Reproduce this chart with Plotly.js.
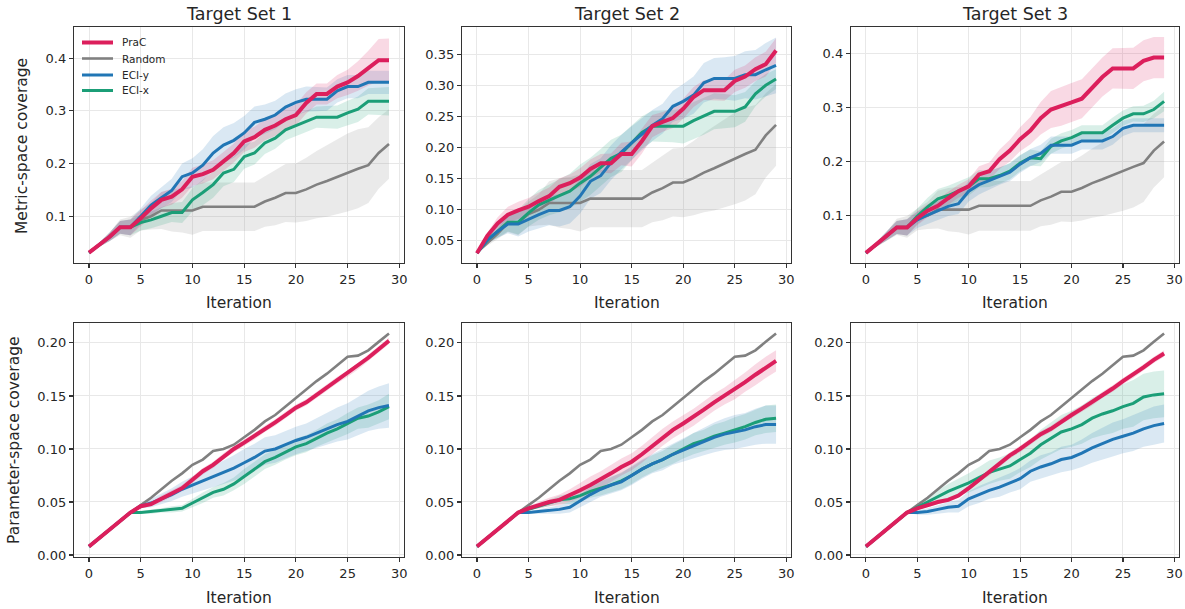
<!DOCTYPE html>
<html>
<head>
<meta charset="utf-8">
<script src="https://cdn.plot.ly/plotly-3.0.1.min.js"></script>
<style>html,body{margin:0;padding:0;background:#fff;}#chart{width:1185px;height:609px;}</style>
</head>
<body>
<div id="chart"></div>
<script>
// ---------------- DATA ----------------
const iterations = [0,1,2,3,4,5,6,7,8,9,10,11,12,13,14,15,16,17,18,19,20,21,22,23,24,25,26,27,28,29];
const seriesNames = ["PraC", "Random", "ECI-y", "ECI-x"];
const panelTitles = ["Target Set 1", "Target Set 2", "Target Set 3"];
const xTickVals = [0, 5, 10, 15, 20, 25, 30];
const metricTicks1 = [0.1, 0.2, 0.3, 0.4];
const metricTicks2 = [0.05, 0.10, 0.15, 0.20, 0.25, 0.30, 0.35];
const metricTicks3 = [0.1, 0.2, 0.3, 0.4];
const paramTicks = [0.00, 0.05, 0.10, 0.15, 0.20];

// Metric-space coverage (top row)
const randomMetric = [0.031,0.046,0.061,0.079,0.079,0.093,0.100,0.111,0.111,0.111,0.111,0.118,0.118,0.118,0.118,0.118,0.118,0.128,0.135,0.144,0.144,0.151,0.160,0.167,0.175,0.183,0.190,0.197,0.220,0.237];
const randomMetricSpread = [0,0.004,0.008,0.015,0.020,0.020,0.025,0.035,0.040,0.042,0.046,0.046,0.046,0.046,0.046,0.046,0.046,0.048,0.052,0.055,0.056,0.060,0.064,0.068,0.071,0.074,0.075,0.072,0.068,0.066];

const pracMetric1 = [0.031,0.046,0.061,0.079,0.079,0.096,0.115,0.131,0.137,0.151,0.175,0.180,0.188,0.204,0.220,0.242,0.250,0.264,0.272,0.284,0.292,0.315,0.332,0.332,0.346,0.354,0.366,0.381,0.396,0.396];
const pracMetric1Spread = [0,0.004,0.008,0.012,0.015,0.015,0.015,0.015,0.015,0.016,0.017,0.018,0.018,0.018,0.018,0.020,0.020,0.020,0.020,0.020,0.020,0.020,0.020,0.020,0.022,0.024,0.028,0.033,0.040,0.041];
const eciyMetric1 = [0.031,0.046,0.061,0.079,0.079,0.100,0.121,0.135,0.149,0.175,0.182,0.197,0.220,0.235,0.244,0.258,0.278,0.284,0.292,0.307,0.316,0.322,0.322,0.322,0.338,0.346,0.346,0.354,0.354,0.354];
const eciyMetric1Spread = [0,0.004,0.008,0.012,0.015,0.015,0.018,0.020,0.022,0.025,0.028,0.030,0.032,0.034,0.033,0.032,0.030,0.028,0.027,0.026,0.025,0.024,0.023,0.022,0.022,0.022,0.022,0.022,0.022,0.022];
const ecixMetric1 = [0.031,0.046,0.061,0.079,0.079,0.088,0.093,0.100,0.107,0.107,0.131,0.145,0.160,0.182,0.189,0.213,0.220,0.239,0.248,0.264,0.272,0.280,0.288,0.288,0.288,0.296,0.303,0.318,0.318,0.318];
const ecixMetric1Spread = [0,0.004,0.008,0.012,0.015,0.015,0.016,0.017,0.018,0.020,0.022,0.024,0.025,0.025,0.024,0.023,0.022,0.021,0.020,0.020,0.020,0.020,0.020,0.021,0.022,0.023,0.024,0.025,0.026,0.027];

const pracMetric2 = [0.030,0.058,0.078,0.092,0.099,0.105,0.114,0.122,0.137,0.143,0.152,0.166,0.175,0.175,0.190,0.190,0.211,0.235,0.242,0.248,0.263,0.282,0.293,0.293,0.293,0.308,0.315,0.327,0.335,0.357];
const pracMetric2Spread = [0,0.005,0.010,0.013,0.014,0.014,0.014,0.014,0.014,0.014,0.015,0.015,0.015,0.016,0.018,0.020,0.020,0.018,0.016,0.016,0.016,0.016,0.016,0.016,0.017,0.018,0.018,0.019,0.020,0.020];
const eciyMetric2 = [0.030,0.051,0.065,0.077,0.077,0.085,0.092,0.099,0.099,0.105,0.122,0.146,0.155,0.176,0.193,0.208,0.222,0.236,0.247,0.267,0.275,0.285,0.305,0.312,0.312,0.312,0.318,0.318,0.326,0.333];
const eciyMetric2Spread = [0,0.005,0.010,0.015,0.020,0.020,0.022,0.024,0.026,0.027,0.028,0.028,0.028,0.028,0.028,0.027,0.026,0.025,0.024,0.025,0.028,0.030,0.032,0.033,0.034,0.036,0.038,0.040,0.043,0.045];
const ecixMetric2 = [0.030,0.051,0.065,0.080,0.080,0.095,0.108,0.116,0.123,0.130,0.143,0.154,0.168,0.183,0.191,0.208,0.225,0.235,0.235,0.235,0.235,0.244,0.251,0.259,0.259,0.259,0.266,0.287,0.301,0.311];
const ecixMetric2Spread = [0,0.005,0.010,0.015,0.020,0.022,0.024,0.025,0.027,0.028,0.030,0.030,0.030,0.030,0.030,0.028,0.026,0.025,0.025,0.026,0.028,0.030,0.030,0.029,0.028,0.026,0.024,0.020,0.018,0.016];

const pracMetric3 = [0.031,0.047,0.062,0.078,0.078,0.095,0.109,0.118,0.132,0.145,0.154,0.176,0.182,0.204,0.220,0.241,0.257,0.280,0.296,0.302,0.309,0.316,0.336,0.356,0.372,0.372,0.372,0.386,0.392,0.392];
const pracMetric3Spread = [0,0.004,0.008,0.012,0.015,0.013,0.012,0.012,0.012,0.012,0.013,0.015,0.016,0.018,0.020,0.022,0.025,0.030,0.034,0.036,0.036,0.036,0.036,0.036,0.037,0.038,0.038,0.038,0.038,0.038];
const eciyMetric3 = [0.031,0.047,0.062,0.078,0.078,0.092,0.101,0.109,0.117,0.122,0.145,0.157,0.165,0.173,0.180,0.195,0.207,0.215,0.230,0.230,0.230,0.238,0.238,0.238,0.246,0.261,0.267,0.267,0.267,0.267];
const eciyMetric3Spread = [0,0.004,0.008,0.012,0.015,0.015,0.016,0.017,0.018,0.019,0.019,0.018,0.017,0.016,0.016,0.016,0.016,0.016,0.016,0.016,0.016,0.016,0.016,0.016,0.015,0.014,0.013,0.013,0.013,0.013];
const ecixMetric3 = [0.031,0.047,0.062,0.078,0.078,0.099,0.116,0.131,0.137,0.145,0.154,0.168,0.168,0.174,0.182,0.197,0.207,0.205,0.228,0.238,0.244,0.253,0.253,0.253,0.267,0.280,0.288,0.288,0.296,0.311];
const ecixMetric3Spread = [0,0.004,0.008,0.012,0.015,0.015,0.017,0.018,0.018,0.018,0.017,0.016,0.015,0.015,0.015,0.015,0.015,0.014,0.014,0.014,0.014,0.014,0.014,0.014,0.014,0.014,0.014,0.015,0.016,0.018];

// Parameter-space coverage (bottom row)
const randomParam = [0.008,0.016,0.024,0.032,0.040,0.047,0.054,0.062,0.070,0.077,0.085,0.090,0.098,0.100,0.104,0.111,0.118,0.126,0.132,0.140,0.148,0.156,0.164,0.171,0.179,0.187,0.188,0.193,0.201,0.209];

const pracParam1 = [0.008,0.016,0.024,0.032,0.040,0.046,0.048,0.053,0.058,0.063,0.071,0.079,0.085,0.093,0.100,0.106,0.112,0.119,0.125,0.132,0.139,0.144,0.151,0.158,0.165,0.171,0.178,0.186,0.194,0.202];
const pracParam1Spread = [0,0.001,0.001,0.001,0.001,0.002,0.002,0.003,0.003,0.003,0.003,0.003,0.003,0.003,0.003,0.003,0.003,0.003,0.003,0.003,0.003,0.003,0.003,0.003,0.003,0.003,0.003,0.003,0.003,0.003];
const eciyParam1 = [0.008,0.016,0.024,0.032,0.040,0.046,0.049,0.053,0.057,0.062,0.066,0.070,0.074,0.078,0.082,0.087,0.092,0.098,0.100,0.104,0.108,0.111,0.115,0.119,0.123,0.126,0.131,0.136,0.139,0.141];
const eciyParam1Spread = [0,0,0,0,0,0.002,0.004,0.005,0.006,0.007,0.008,0.009,0.010,0.011,0.012,0.013,0.013,0.013,0.013,0.013,0.013,0.013,0.014,0.015,0.016,0.017,0.018,0.019,0.020,0.021];
const ecixParam1 = [0.008,0.016,0.024,0.032,0.040,0.040,0.041,0.042,0.043,0.044,0.049,0.054,0.059,0.062,0.067,0.074,0.081,0.088,0.092,0.097,0.102,0.105,0.110,0.115,0.119,0.124,0.129,0.131,0.135,0.140];
const ecixParam1Spread = [0,0,0,0,0,0.001,0.002,0.002,0.003,0.003,0.004,0.005,0.005,0.006,0.006,0.007,0.007,0.007,0.007,0.007,0.008,0.008,0.008,0.009,0.009,0.010,0.010,0.011,0.011,0.012];

const pracParam2 = [0.008,0.016,0.024,0.032,0.040,0.044,0.047,0.050,0.052,0.056,0.061,0.066,0.071,0.077,0.083,0.088,0.095,0.103,0.111,0.118,0.124,0.130,0.137,0.144,0.150,0.156,0.163,0.170,0.177,0.183];
const pracParam2Spread = [0,0,0,0,0,0.002,0.003,0.004,0.005,0.006,0.007,0.008,0.008,0.008,0.008,0.008,0.008,0.008,0.008,0.008,0.008,0.008,0.008,0.008,0.008,0.009,0.009,0.010,0.010,0.010];
const eciyParam2 = [0.008,0.016,0.024,0.032,0.040,0.040,0.041,0.042,0.043,0.045,0.051,0.057,0.062,0.066,0.069,0.075,0.081,0.086,0.090,0.095,0.099,0.103,0.107,0.111,0.114,0.116,0.118,0.121,0.123,0.123];
const eciyParam2Spread = [0,0,0,0,0,0.001,0.002,0.003,0.004,0.005,0.006,0.007,0.007,0.008,0.008,0.009,0.009,0.009,0.010,0.010,0.011,0.012,0.013,0.014,0.015,0.016,0.016,0.017,0.018,0.018];
const ecixParam2 = [0.008,0.016,0.024,0.032,0.040,0.043,0.046,0.049,0.052,0.053,0.056,0.060,0.063,0.066,0.070,0.075,0.081,0.086,0.090,0.095,0.100,0.105,0.108,0.112,0.115,0.118,0.121,0.125,0.128,0.129];
const ecixParam2Spread = [0,0,0,0,0,0.001,0.002,0.003,0.004,0.005,0.006,0.006,0.007,0.007,0.008,0.008,0.008,0.008,0.008,0.009,0.009,0.010,0.010,0.011,0.011,0.012,0.012,0.012,0.013,0.013];

const pracParam3 = [0.008,0.016,0.024,0.032,0.040,0.044,0.047,0.050,0.052,0.056,0.063,0.071,0.078,0.086,0.094,0.100,0.107,0.114,0.119,0.126,0.132,0.138,0.144,0.151,0.157,0.164,0.170,0.177,0.184,0.190];
const pracParam3Spread = [0,0,0,0,0,0.001,0.002,0.002,0.002,0.002,0.002,0.002,0.003,0.003,0.003,0.003,0.003,0.003,0.003,0.003,0.003,0.003,0.003,0.003,0.003,0.003,0.003,0.003,0.003,0.003];
const eciyParam3 = [0.008,0.016,0.024,0.032,0.040,0.040,0.041,0.043,0.045,0.046,0.053,0.057,0.061,0.064,0.068,0.072,0.079,0.083,0.086,0.090,0.092,0.096,0.101,0.105,0.109,0.112,0.115,0.119,0.122,0.124];
const eciyParam3Spread = [0,0,0,0,0,0.002,0.003,0.004,0.005,0.006,0.007,0.008,0.008,0.009,0.009,0.010,0.010,0.011,0.011,0.012,0.012,0.013,0.014,0.015,0.016,0.016,0.017,0.017,0.018,0.018];
const ecixParam3 = [0.008,0.016,0.024,0.032,0.040,0.045,0.050,0.055,0.060,0.064,0.068,0.073,0.078,0.081,0.084,0.090,0.096,0.104,0.110,0.116,0.119,0.123,0.129,0.133,0.136,0.140,0.143,0.149,0.151,0.152];
const ecixParam3Spread = [0,0,0,0,0,0.002,0.004,0.006,0.007,0.008,0.009,0.010,0.011,0.011,0.012,0.012,0.013,0.014,0.015,0.016,0.017,0.018,0.019,0.020,0.021,0.021,0.022,0.022,0.022,0.022];

// ---------------- STYLE ----------------
const colors = {"PraC": "#dc1f5c", "Random": "#808080", "ECI-y": "#2176b5", "ECI-x": "#1b9e77"};
const bandColors = {"PraC": "rgba(220,31,92,0.17)", "Random": "rgba(128,128,128,0.17)", "ECI-y": "rgba(33,118,181,0.17)", "ECI-x": "rgba(27,158,119,0.17)"};
const widths = {"PraC": 4, "Random": 2.6, "ECI-y": 3, "ECI-x": 3};

const panels = [
  {ax: 1, series: {"Random": [randomMetric, randomMetricSpread], "ECI-x": [ecixMetric1, ecixMetric1Spread], "ECI-y": [eciyMetric1, eciyMetric1Spread], "PraC": [pracMetric1, pracMetric1Spread]}},
  {ax: 2, series: {"Random": [randomMetric, randomMetricSpread], "ECI-x": [ecixMetric2, ecixMetric2Spread], "ECI-y": [eciyMetric2, eciyMetric2Spread], "PraC": [pracMetric2, pracMetric2Spread]}},
  {ax: 3, series: {"Random": [randomMetric, randomMetricSpread], "ECI-x": [ecixMetric3, ecixMetric3Spread], "ECI-y": [eciyMetric3, eciyMetric3Spread], "PraC": [pracMetric3, pracMetric3Spread]}},
  {ax: 4, series: {"Random": [randomParam, null], "ECI-x": [ecixParam1, ecixParam1Spread], "ECI-y": [eciyParam1, eciyParam1Spread], "PraC": [pracParam1, pracParam1Spread]}},
  {ax: 5, series: {"Random": [randomParam, null], "ECI-x": [ecixParam2, ecixParam2Spread], "ECI-y": [eciyParam2, eciyParam2Spread], "PraC": [pracParam2, pracParam2Spread]}},
  {ax: 6, series: {"Random": [randomParam, null], "ECI-x": [ecixParam3, ecixParam3Spread], "ECI-y": [eciyParam3, eciyParam3Spread], "PraC": [pracParam3, pracParam3Spread]}}
];
const drawOrder = ["Random", "ECI-x", "ECI-y", "PraC"];

const traces = [];
panels.forEach(p => {
  const xa = p.ax === 1 ? "x" : "x" + p.ax;
  const ya = p.ax === 1 ? "y" : "y" + p.ax;
  drawOrder.forEach(name => {
    const [mean, spread] = p.series[name];
    if (!spread) return;
    const upper = mean.map((v, i) => v + spread[i]);
    const lower = mean.map((v, i) => v - spread[i]);
    traces.push({
      x: iterations.concat(iterations.slice().reverse()),
      y: upper.concat(lower.slice().reverse()),
      xaxis: xa, yaxis: ya, type: "scatter", mode: "lines",
      fill: "toself", fillcolor: bandColors[name], line: {width: 0, color: "rgba(0,0,0,0)"},
      hoverinfo: "skip", showlegend: false
    });
  });
  drawOrder.forEach(name => {
    const [mean] = p.series[name];
    traces.push({
      x: iterations, y: mean, xaxis: xa, yaxis: ya, type: "scatter", mode: "lines",
      name: name, line: {color: colors[name], width: widths[name]},
      showlegend: false
    });
  });
});

const W = 1185, H = 609;
const xDomPx = [[74, 404], [462, 791], [851, 1179]];
const yDomPx = [[27, 263], [323, 557]];
const FONT = "DejaVu Sans, sans-serif";
const tickFont = {family: FONT, size: 13, color: "#262626"};
const yRanges = [[0.0113, 0.459], [0.0141, 0.395], [0.0123, 0.4485], [-0.0019, 0.2188], [-0.0019, 0.2188], [-0.0019, 0.2188]];
const yTicks = [metricTicks1, metricTicks2, metricTicks3, paramTicks, paramTicks, paramTicks];
const yFormats = [".1f", ".2f", ".1f", ".2f", ".2f", ".2f"];

const layout = {
  width: W, height: H,
  margin: {l: 0, r: 0, t: 0, b: 0},
  paper_bgcolor: "#ffffff", plot_bgcolor: "#ffffff",
  font: {family: FONT, color: "#262626"},
  showlegend: false,
  annotations: [],
  shapes: [],
  hovermode: false
};

for (let i = 0; i < 6; i++) {
  const col = i % 3, row = Math.floor(i / 3);
  const n = i + 1;
  const xk = n === 1 ? "xaxis" : "xaxis" + n;
  const yk = n === 1 ? "yaxis" : "yaxis" + n;
  layout[xk] = {
    domain: [xDomPx[col][0] / W, xDomPx[col][1] / W],
    anchor: n === 1 ? "y" : "y" + n,
    range: [-1.45, 30.45], tickvals: xTickVals, ticktext: xTickVals.map(String),
    showgrid: true, gridcolor: "#e8e8e8", gridwidth: 1,
    showline: true, mirror: true, linecolor: "#333333", linewidth: 1.2,
    ticks: "outside", ticklen: 4, tickcolor: "#333333", tickwidth: 1.1,
    tickfont: tickFont, zeroline: false
  };
  layout[yk] = {
    domain: [1 - yDomPx[row][1] / H, 1 - yDomPx[row][0] / H],
    anchor: n === 1 ? "x" : "x" + n,
    range: yRanges[i], tickvals: yTicks[i], tickformat: yFormats[i],
    showgrid: true, gridcolor: "#e8e8e8", gridwidth: 1,
    showline: true, mirror: true, linecolor: "#333333", linewidth: 1.2,
    ticks: "outside", ticklen: 4, tickcolor: "#333333", tickwidth: 1.1,
    tickfont: tickFont, zeroline: false
  };
  layout.annotations.push({
    text: "Iteration", xref: "paper", yref: "paper",
    x: (xDomPx[col][0] + xDomPx[col][1]) / 2 / W,
    y: 1 - (row === 0 ? 303 : 598) / H,
    xanchor: "center", yanchor: "middle", showarrow: false,
    font: {size: 15.5, family: FONT, color: "#262626"}
  });
}
panelTitles.forEach((t, col) => {
  layout.annotations.push({
    text: t, xref: "paper", yref: "paper",
    x: (xDomPx[col][0] + xDomPx[col][1]) / 2 / W, y: 1 - 14 / H,
    xanchor: "center", yanchor: "middle", showarrow: false,
    font: {size: 17.5, family: FONT, color: "#262626"}
  });
});
layout.annotations.push({
  text: "Metric-space coverage", xref: "paper", yref: "paper",
  x: 22 / W, y: 1 - 146 / H, textangle: -90, xanchor: "center", yanchor: "middle", showarrow: false,
  font: {size: 15.5, family: FONT, color: "#262626"}
});
layout.annotations.push({
  text: "Parameter-space coverage", xref: "paper", yref: "paper",
  x: 14 / W, y: 1 - 440 / H, textangle: -90, xanchor: "center", yanchor: "middle", showarrow: false,
  font: {size: 15.5, family: FONT, color: "#262626"}
});

// Legend (drawn manually, no frame, in the first panel)
const legendRowsPx = [42.5, 58.5, 75, 90.5];
seriesNames.forEach((name, k) => {
  const yp = 1 - legendRowsPx[k] / H;
  layout.shapes.push({
    type: "line", xref: "paper", yref: "paper",
    x0: 82 / W, x1: 113 / W, y0: yp, y1: yp,
    line: {color: colors[name], width: widths[name]}
  });
  layout.annotations.push({
    text: name, xref: "paper", yref: "paper",
    x: 120 / W, y: yp, xanchor: "left", yanchor: "middle", showarrow: false,
    font: {size: 10.5, family: FONT, color: "#262626"}
  });
});

Plotly.newPlot("chart", traces, layout, {displayModeBar: false, staticPlot: true});
</script>
</body>
</html>
